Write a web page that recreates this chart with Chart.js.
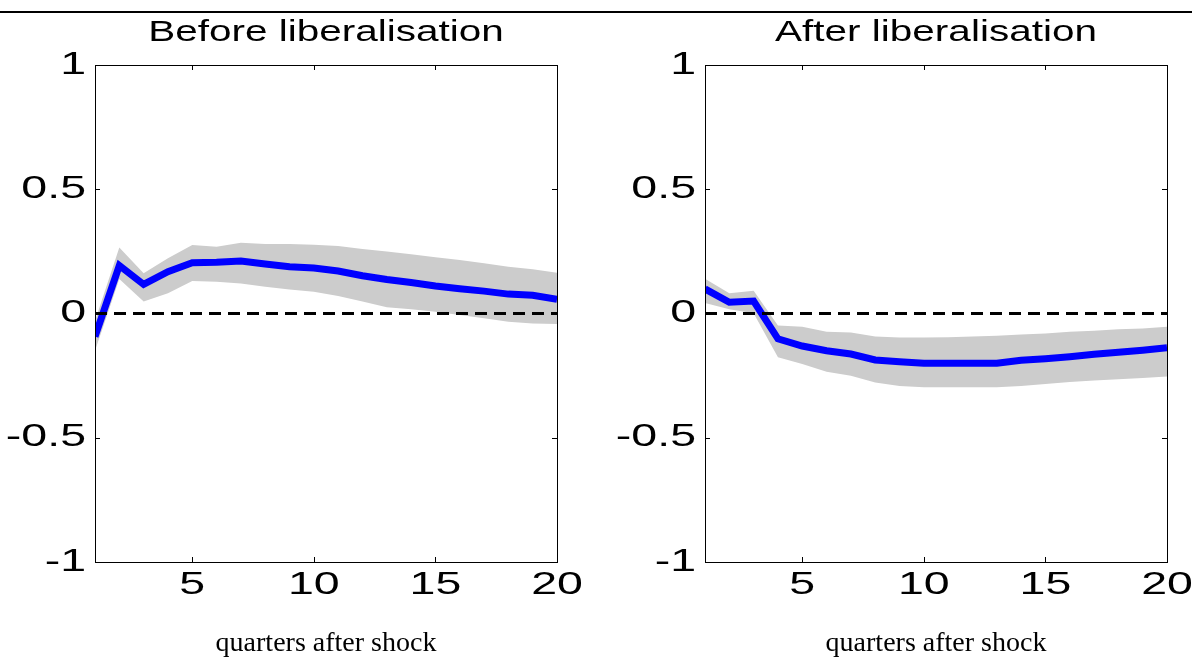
<!DOCTYPE html>
<html>
<head>
<meta charset="utf-8">
<script src="https://cdn.jsdelivr.net/npm/chart.js@4.4.1/dist/chart.umd.min.js"></script>
<style>
  html, body { margin: 0; padding: 0; background: #fff; }
  #page { position: relative; width: 1192px; height: 658px; overflow: hidden; }
  #rule { position: absolute; left: 0; top: 11px; width: 1192px; height: 2px; background: #000; }
  canvas { position: absolute; top: 0; }
  #before { left: 0; }
  #after { left: 596px; }
</style>
</head>
<body>
<div id="page">
  <div id="rule"></div>
  <canvas id="before" width="596" height="658"></canvas>
  <canvas id="after" width="596" height="658"></canvas>
</div>
<script>
const quarters = [1, 2, 3, 4, 5, 6, 7, 8, 9, 10, 11, 12, 13, 14, 15, 16, 17, 18, 19, 20];
const xTicks = [5, 10, 15, 20];
const yTicks = [-1, -0.5, 0, 0.5, 1];

const beforeIrf = [-0.093, 0.193, 0.117, 0.168, 0.204, 0.206, 0.211, 0.199, 0.188, 0.183,
  0.171, 0.152, 0.137, 0.125, 0.111, 0.100, 0.090, 0.078, 0.073, 0.057];
const beforeUpper = [-0.03, 0.266, 0.162, 0.222, 0.276, 0.269, 0.285, 0.280, 0.280, 0.277,
  0.272, 0.260, 0.249, 0.238, 0.226, 0.215, 0.202, 0.188, 0.178, 0.164];
const beforeLower = [-0.15, 0.139, 0.048, 0.081, 0.131, 0.128, 0.121, 0.108, 0.097, 0.088,
  0.070, 0.048, 0.025, 0.017, 0.007, -0.006, -0.019, -0.033, -0.040, -0.042];

const afterIrf = [0.099, 0.045, 0.050, -0.102, -0.131, -0.150, -0.163, -0.187, -0.194, -0.200,
  -0.200, -0.200, -0.200, -0.188, -0.182, -0.174, -0.164, -0.156, -0.148, -0.138];
const afterUpper = [0.140, 0.081, 0.092, -0.048, -0.053, -0.073, -0.076, -0.093, -0.097, -0.097,
  -0.096, -0.093, -0.090, -0.085, -0.080, -0.073, -0.069, -0.063, -0.060, -0.053];
const afterLower = [0.042, 0.017, 0.001, -0.176, -0.203, -0.234, -0.250, -0.278, -0.292, -0.297,
  -0.297, -0.297, -0.297, -0.292, -0.284, -0.276, -0.270, -0.265, -0.260, -0.254];

const xLabel = 'quarters after shock';

// sans labels are drawn wide, like the exported figure
const TICK_STRETCH = 1.5;
const TITLE_STRETCH = 1.35;
const SANS = '"Liberation Sans", Arial, sans-serif';
const SERIF = '"Liberation Serif", "Times New Roman", serif';

function points(values) {
  return quarters.map((q, i) => ({ x: q, y: values[i] }));
}

function wideText(ctx, text, x, y, align, sx) {
  ctx.save();
  ctx.translate(x, y);
  ctx.scale(sx, 1);
  ctx.textAlign = align;
  ctx.fillText(text, 0, 0);
  ctx.restore();
}

const frame = {
  id: 'frame',
  afterDatasetsDraw(chart, args, opts) {
    const { ctx, chartArea: a, scales: { x, y } } = chart;
    const t = 5;
    ctx.save();
    ctx.strokeStyle = '#000';
    ctx.lineWidth = 1;
    ctx.strokeRect(a.left + 0.5, a.top + 0.5, a.width, a.height);

    ctx.beginPath();
    xTicks.forEach(v => {
      const px = Math.round(x.getPixelForValue(v)) + 0.5;
      ctx.moveTo(px, a.bottom); ctx.lineTo(px, a.bottom - t);
      ctx.moveTo(px, a.top); ctx.lineTo(px, a.top + t);
    });
    yTicks.forEach(v => {
      const py = Math.round(y.getPixelForValue(v)) + 0.5;
      ctx.moveTo(a.left, py); ctx.lineTo(a.left + t, py);
      ctx.moveTo(a.right, py); ctx.lineTo(a.right - t, py);
    });
    ctx.stroke();

    ctx.fillStyle = '#000';
    ctx.textBaseline = 'middle';
    ctx.font = '31px ' + SANS;
    yTicks.forEach(v => {
      wideText(ctx, String(v), a.left - 9, y.getPixelForValue(v), 'right', TICK_STRETCH);
    });
    xTicks.forEach(v => {
      wideText(ctx, String(v), x.getPixelForValue(v), a.bottom + 23, 'center', TICK_STRETCH);
    });

    ctx.textBaseline = 'alphabetic';
    ctx.font = '30px ' + SANS;
    wideText(ctx, opts.title, (a.left + a.right) / 2, 41, 'center', TITLE_STRETCH);

    ctx.font = '28px ' + SERIF;
    ctx.textAlign = 'center';
    ctx.fillText(xLabel, (a.left + a.right) / 2, 651);
    ctx.restore();
  }
};

function makePanel(id, title, irf, upper, lower, pad) {
  const ctx = document.getElementById(id).getContext('2d');
  return new Chart(ctx, {
    type: 'line',
    data: {
      datasets: [
        {
          data: points(quarters.map(() => 0)),
          borderColor: '#000',
          borderWidth: 3,
          borderDash: [12, 7],
          pointRadius: 0,
          order: 0
        },
        {
          data: points(irf),
          borderColor: '#0000ff',
          borderWidth: 7,
          borderJoinStyle: 'miter',
          pointRadius: 0,
          order: 1
        },
        {
          data: points(upper),
          borderWidth: 0,
          borderColor: 'rgba(0,0,0,0)',
          backgroundColor: '#cccccc',
          pointRadius: 0,
          fill: '+1',
          order: 2
        },
        {
          data: points(lower),
          borderWidth: 0,
          borderColor: 'rgba(0,0,0,0)',
          pointRadius: 0,
          fill: false,
          order: 3
        }
      ]
    },
    options: {
      responsive: false,
      animation: false,
      layout: { padding: pad },
      plugins: {
        legend: { display: false },
        tooltip: { enabled: false },
        frame: { title }
      },
      scales: {
        x: { type: 'linear', min: 1, max: 20, display: false },
        y: { min: -1, max: 1, display: false }
      }
    },
    plugins: [frame]
  });
}

makePanel('before', 'Before liberalisation', beforeIrf, beforeUpper, beforeLower,
  { left: 95, right: 39, top: 65, bottom: 96 });
makePanel('after', 'After liberalisation', afterIrf, afterUpper, afterLower,
  { left: 109, right: 25, top: 65, bottom: 96 });
</script>
</body>
</html>
